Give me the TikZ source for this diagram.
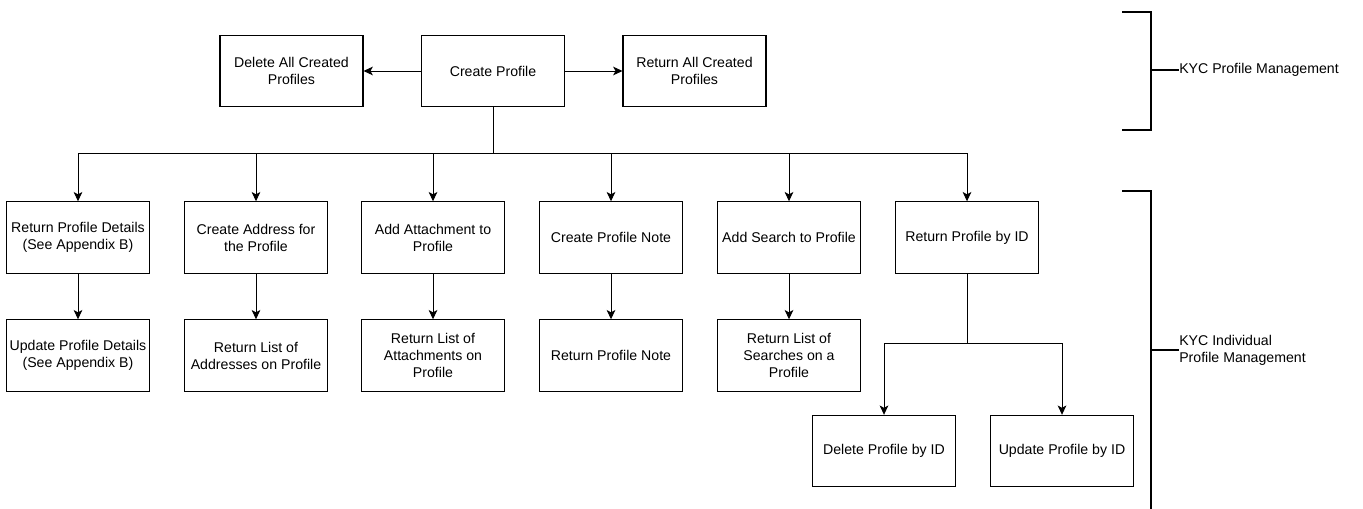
\documentclass[tikz,border=0pt]{standalone}
\usepackage{fontspec}
\setmainfont{Liberation Sans}
\usepackage{tikz}
\usetikzlibrary{positioning,calc,arrows.meta}

\begin{document}
\begin{tikzpicture}[x=0.75pt,y=-0.75pt,
  box/.style={draw, line width=0.8pt, minimum width=107.25pt, minimum height=53.5pt,
    inner sep=0pt, align=center, font=\fontsize{10.6pt}{12.7pt}\selectfont},
  conn/.style={line width=0.7pt},
  arr/.style={conn, -{Stealth[length=7pt,width=6.5pt,inset=1.8pt]}},
  brace/.style={line width=1.5pt},
  tag/.style={anchor=west, inner sep=0pt, align=left, font=\fontsize{10.6pt}{12.7pt}\selectfont}]
\useasboundingbox (0,0) rectangle (1363,509);

% top row
\node[box] (create) at (493,71) {Create Profile};
\node[box] (delall) at (291.5,71) {Delete All Created\\Profiles};
\node[box] (retall) at (694.5,71) {Return All Created\\Profiles};
\draw[arr] (create) -- (delall);
\draw[arr] (create) -- (retall);

% second row
\node[box] (retdet) at (78,237.5) {Return Profile Details\\(See Appendix B)};
\node[box] (addr) at (256,237.5) {Create Address for\\the Profile};
\node[box] (attach) at (433,237.5) {Add Attachment to\\Profile};
\node[box] (note) at (611,237.5) {Create Profile Note};
\node[box] (search) at (789,237.5) {Add Search to Profile};
\node[box] (byid) at (967,237.5) {Return Profile by ID};

% third row
\node[box] (upddet) at (78,355.5) {Update Profile Details\\(See Appendix B)};
\node[box] (addrlist) at (256,355.5) {Return List of\\Addresses on Profile};
\node[box] (attlist) at (433,355.5) {Return List of\\Attachments on\\Profile};
\node[box] (retnote) at (611,355.5) {Return Profile Note};
\node[box] (srchlist) at (789,355.5) {Return List of\\Searches on a\\Profile};

% by ID children
\node[box] (delid) at (884,451) {Delete Profile by ID};
\node[box] (updid) at (1062,451) {Update Profile by ID};

% bus from Create Profile
\coordinate (bus) at (493,153);
\draw[conn] (create) -- (bus);
\foreach \n in {retdet,addr,attach,note,search,byid}
  \draw[arr] (bus) -| (\n.north);

\foreach \a/\b in {retdet/upddet,addr/addrlist,attach/attlist,note/retnote,search/srchlist}
  \draw[arr] (\a) -- (\b);

% bus from Return Profile by ID
\coordinate (subbus) at (967,343);
\draw[conn] (byid) -- (subbus);
\draw[arr] (subbus) -| (delid.north);
\draw[arr] (subbus) -| (updid.north);

% brackets
\node[tag] (mgmt) at (1179,70) {KYC Profile Management};
\node[tag] (indiv) at (1179,350) {KYC Individual\\Profile Management};
\draw[brace] (1122,12) -- (1151,12) -- (1151,130) -- (1122,130);
\draw[brace] (1151,70) -- (mgmt.west);
\draw[brace] (1122,191) -- (1151,191) -- (1151,509);
\draw[brace] (1151,350) -- (indiv.west);
\end{tikzpicture}
\end{document}
